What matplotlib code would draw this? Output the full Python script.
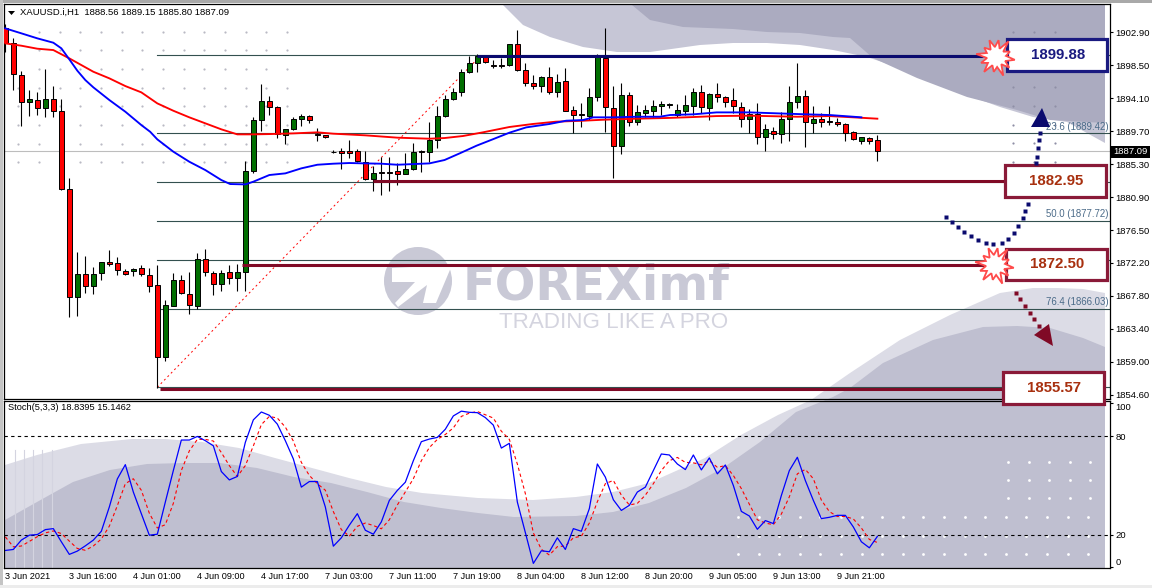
import numpy as np
import matplotlib
matplotlib.use('Agg')
import matplotlib.pyplot as plt
from matplotlib.patches import Rectangle, Circle, Polygon

W, H = 1152, 588

# candles, one hour bars
opens = [1903.42, 1901.42, 1897.24, 1893.56, 1893.82, 1892.76, 1894.04, 1892.36, 1882.04, 1867.56,
         1870.71, 1869.02, 1870.76, 1872.31, 1872.09, 1871.11, 1871.02, 1871.42, 1870.58, 1869.16,
         1859.56, 1866.45, 1869.82, 1868.04, 1866.45, 1872.62, 1870.85, 1869.29, 1870.89, 1870.09,
         1870.89, 1884.36, 1891.16, 1893.69, 1892.89, 1889.20, 1889.96, 1891.29, 1891.69, 1889.38,
         1889.16, 1886.98, 1887.02, 1887.02, 1887.02, 1885.64, 1883.38, 1884.27, 1884.31, 1884.36,
         1884.05, 1884.62, 1887.11, 1886.98, 1888.49, 1891.69, 1893.96, 1894.89, 1897.56, 1898.76,
         1899.73, 1898.53, 1898.58, 1898.49, 1901.29, 1897.82, 1896.09, 1895.73, 1896.89, 1894.89,
         1896.36, 1892.49, 1892.00, 1891.78, 1894.22, 1899.51, 1892.76, 1887.69, 1894.49, 1890.89,
         1892.18, 1892.45, 1893.02, 1893.16, 1891.87, 1892.45, 1893.02, 1894.89, 1892.84, 1894.62,
         1894.22, 1893.82, 1892.89, 1891.29, 1891.96, 1888.98, 1889.78, 1889.29, 1891.29, 1893.56,
         1894.36, 1890.84, 1891.29, 1891.11, 1890.98, 1890.62, 1889.64, 1888.45, 1888.76, 1888.56]
highs = [1904.00, 1902.09, 1897.73, 1895.20, 1894.89, 1898.00, 1895.73, 1894.00, 1883.42, 1873.60,
         1873.07, 1871.64, 1872.31, 1873.87, 1872.93, 1871.29, 1871.47, 1871.82, 1871.51, 1871.87,
         1867.20, 1870.76, 1870.53, 1870.93, 1873.47, 1874.00, 1871.11, 1871.20, 1871.87, 1872.00,
         1885.73, 1891.56, 1896.00, 1894.40, 1893.07, 1889.96, 1891.56, 1892.00, 1891.87, 1890.13,
         1889.20, 1887.20, 1887.42, 1888.53, 1887.29, 1887.02, 1885.07, 1886.22, 1886.22, 1885.42,
         1886.76, 1888.09, 1887.20, 1890.93, 1893.07, 1894.53, 1895.42, 1897.96, 1899.78, 1899.96,
         1899.87, 1899.20, 1899.42, 1901.33, 1903.20, 1898.76, 1897.20, 1897.07, 1898.27, 1897.33,
         1898.09, 1893.11, 1893.51, 1895.42, 1899.96, 1903.42, 1895.73, 1896.09, 1894.89, 1893.20,
         1893.20, 1893.87, 1893.69, 1893.51, 1893.33, 1894.53, 1895.42, 1895.87, 1894.76, 1896.09,
         1894.40, 1895.42, 1893.56, 1892.67, 1893.42, 1890.67, 1890.31, 1892.22, 1895.73, 1898.76,
         1895.20, 1893.07, 1892.09, 1893.07, 1891.42, 1890.85, 1889.73, 1888.98, 1888.98, 1889.15]
lows = [1900.31, 1895.20, 1890.40, 1891.78, 1891.91, 1891.60, 1891.56, 1881.91, 1865.00, 1865.11,
        1868.13, 1868.04, 1869.87, 1871.78, 1870.58, 1870.58, 1870.45, 1870.45, 1868.27, 1855.43,
        1859.11, 1866.45, 1868.04, 1865.34, 1866.00, 1870.45, 1867.87, 1868.40, 1869.29, 1868.40,
        1868.40, 1884.18, 1889.73, 1891.87, 1888.85, 1888.00, 1889.87, 1890.40, 1890.80, 1888.45,
        1888.80, 1886.85, 1884.71, 1886.09, 1885.60, 1883.16, 1881.73, 1881.20, 1881.73, 1882.53,
        1884.00, 1884.53, 1884.31, 1885.56, 1887.47, 1891.56, 1893.87, 1894.40, 1897.51, 1897.65,
        1898.76, 1898.13, 1898.13, 1898.44, 1897.78, 1895.73, 1895.38, 1894.93, 1894.71, 1894.27,
        1892.36, 1889.42, 1890.31, 1891.20, 1893.78, 1889.64, 1883.51, 1886.71, 1890.45, 1890.49,
        1891.64, 1891.64, 1891.87, 1892.80, 1891.56, 1891.87, 1891.87, 1892.09, 1891.20, 1893.60,
        1892.98, 1892.09, 1890.22, 1889.42, 1888.00, 1887.11, 1888.71, 1888.18, 1888.45, 1892.84,
        1887.64, 1889.42, 1890.31, 1890.53, 1890.40, 1888.45, 1888.53, 1888.00, 1887.96, 1885.80]
closes = [1901.42, 1897.33, 1893.60, 1893.96, 1892.76, 1893.96, 1892.36, 1881.96, 1867.56, 1870.71,
          1869.02, 1870.71, 1872.31, 1872.05, 1871.16, 1870.71, 1871.38, 1870.62, 1869.11, 1859.56,
          1866.49, 1869.82, 1868.09, 1866.49, 1872.62, 1870.89, 1869.29, 1870.76, 1870.09, 1870.89,
          1884.36, 1891.16, 1893.69, 1892.89, 1889.29, 1889.96, 1891.29, 1891.69, 1891.16, 1889.16,
          1888.98, 1886.89, 1886.85, 1886.85, 1885.69, 1883.29, 1884.09, 1884.09, 1884.13, 1884.05,
          1884.62, 1886.89, 1886.98, 1888.53, 1891.69, 1893.96, 1894.89, 1897.56, 1898.76, 1899.73,
          1898.89, 1898.40, 1898.40, 1901.29, 1897.82, 1896.09, 1895.73, 1896.89, 1894.89, 1896.22,
          1892.45, 1891.91, 1891.87, 1894.22, 1899.64, 1892.89, 1887.69, 1894.49, 1890.89, 1892.22,
          1892.49, 1893.02, 1893.29, 1893.29, 1892.49, 1893.16, 1894.89, 1892.89, 1894.62, 1894.31,
          1893.64, 1893.02, 1891.29, 1891.96, 1888.98, 1889.96, 1889.29, 1891.29, 1893.56, 1894.36,
          1890.89, 1891.29, 1890.98, 1890.93, 1890.62, 1889.51, 1888.62, 1888.89, 1888.45, 1887.09]

# moving averages, read at these bars
blue_bars = [0, 2, 4, 6, 7, 8, 9, 10, 11, 13, 15, 17, 18.1, 19, 21, 23, 25, 27, 28.1, 30, 31, 33, 35, 37, 39,
             41, 43, 45, 47, 49, 53, 54.9, 56.8, 58.9, 60.9, 63, 65.1, 68, 70.1, 72.2, 73.5, 76, 78.9, 81.8,
             83.1, 86, 88.9, 93, 99, 103, 106, 107]
blue_ma = [1903.42, 1902.76, 1902.09, 1901.51, 1900.76, 1899.29, 1897.78, 1896.53, 1895.56, 1893.87, 1892.31,
           1890.53, 1889.64, 1888.62, 1886.98, 1885.64, 1884.53, 1883.20, 1882.67, 1882.62, 1882.98, 1883.87,
           1884.09, 1884.76, 1885.24, 1885.38, 1885.47, 1885.42, 1885.38, 1885.24, 1885.42, 1885.87, 1886.76,
           1887.78, 1888.62, 1889.51, 1890.22, 1890.67, 1891.11, 1891.20, 1891.56, 1891.56, 1891.64, 1891.64,
           1891.87, 1891.96, 1892.22, 1892.22, 1892.00, 1891.87, 1891.64, 1891.56]
red_bars = [0, 2, 4, 6, 8, 11, 13, 15, 17, 19, 21, 23, 25, 27, 29, 31, 33, 36, 39, 41, 45, 49, 53, 54.9, 57.2,
            59.7, 63, 65.9, 68.8, 72.2, 74.7, 78.9, 82.6, 86, 88.9, 93, 99, 103, 106, 109]
red_ma = [1901.42, 1901.11, 1900.71, 1900.53, 1899.42, 1897.64, 1896.76, 1895.73, 1894.89, 1893.42, 1892.44,
          1891.56, 1890.76, 1889.96, 1889.29, 1889.29, 1889.33, 1889.42, 1889.56, 1889.38, 1889.16, 1888.85,
          1888.71, 1888.80, 1889.07, 1889.56, 1890.27, 1890.67, 1890.98, 1891.11, 1891.24, 1891.38, 1891.47,
          1891.60, 1891.73, 1891.78, 1891.64, 1891.73, 1891.56, 1891.38]

# stochastic
stoch_main = [10.3, 10.9, 16.6, 19.6, 20.0, 23.0, 23.6, 15.6, 7.9, 9.9, 13.1, 16.6, 22.0, 36.8, 53.9, 62.6, 45.9,
              32.7, 19.6, 20.2, 39.8, 59.0, 77.6, 77.6, 79.8, 77.2, 74.1, 58.4, 53.3, 55.4, 76.2, 89.9, 94.7,
              92.7, 87.3, 77.2, 66.1, 48.9, 52.3, 52.3, 36.8, 12.9, 18.0, 25.7, 32.7, 22.6, 20.2, 27.7, 40.8,
              46.9, 51.9, 65.0, 76.6, 78.2, 79.2, 84.2, 92.3, 95.2, 94.5, 94.3, 91.3, 86.7, 72.7, 75.6, 39.8,
              21.2, 2.4, 10.1, 9.5, 18.0, 10.9, 23.6, 22.0, 35.8, 63.0, 55.0, 41.2, 34.7, 37.8, 45.9, 48.9,
              59.0, 69.1, 68.5, 63.0, 59.6, 68.5, 59.4, 66.7, 57.0, 62.4, 49.9, 34.1, 31.3, 23.2, 28.5, 26.7,
              43.8, 59.0, 67.1, 52.9, 40.8, 29.7, 30.5, 31.7, 31.7, 24.6, 15.6, 11.9, 18.84]
stoch_signal = [18.6, 12.5, 13.0, 15.8, 18.7, 21.0, 22.2, 20.6, 16.0, 11.5, 10.4, 13.0, 17.3, 25.1, 37.6, 51.0,
                54.0, 47.0, 33.0, 24.0, 26.0, 39.0, 59.0, 71.0, 78.0, 78.0, 77.0, 70.0, 62.0, 55.4, 62.0, 74.0,
                87.0, 92.0, 91.0, 85.5, 77.0, 64.0, 56.0, 51.0, 47.0, 34.0, 23.0, 19.0, 25.0, 27.0, 25.5, 23.5,
                29.0, 38.0, 46.0, 54.0, 65.0, 73.0, 78.0, 81.0, 85.0, 92.0, 94.0, 95.0, 93.0, 91.0, 83.0, 78.0,
                63.0, 45.0, 21.0, 11.0, 7.5, 12.6, 13.0, 18.0, 19.0, 27.0, 40.0, 51.0, 53.0, 44.0, 38.0, 39.0,
                44.0, 51.0, 59.0, 65.0, 67.0, 64.0, 63.7, 62.5, 65.0, 61.0, 62.0, 56.0, 48.0, 38.5, 29.0, 27.0,
                26.0, 32.5, 43.0, 57.0, 59.7, 54.0, 41.0, 34.0, 31.0, 31.0, 29.5, 24.0, 17.0, 15.15]

price_ticks = [1902.90, 1898.50, 1894.10, 1889.70, 1885.30, 1880.90, 1876.50, 1872.20, 1867.80, 1863.40, 1859.00, 1854.60]
date_labels = ['3 Jun 2021', '3 Jun 16:00', '4 Jun 01:00', '4 Jun 09:00', '4 Jun 17:00', '7 Jun 03:00', '7 Jun 11:00',
               '7 Jun 19:00', '8 Jun 04:00', '8 Jun 12:00', '8 Jun 20:00', '9 Jun 05:00', '9 Jun 13:00', '9 Jun 21:00']
stoch_ticks = [100, 80, 20, 0]

# fibonacci levels, the 38.2, 61.8 and 100 labels sit behind the boxes so only these three show
fib_levels = [1899.88, 1889.42, 1882.95, 1877.72, 1872.50, 1866.03, 1855.57]
fib_shown = [('23.6', 1889.42), ('50.0', 1877.72), ('76.4', 1866.03)]

# thick levels drawn by hand on the chart, with the bar they start at and end at
zone_levels = [1899.70, 1883.03, 1871.85, 1855.40]
zone_start = [59, 46, 29.6, 19.3]
zone_end = [122.2, 124.8, 122.5, 124.6]
zone_colors = ['#0a0a6e', '#800a26', '#800a26', '#800a26']

box_labels = ['1899.88', '1882.95', '1872.50', '1855.57']
box_edges = ['#1a1a80', '#8a1a38', '#8a1a38', '#8a1a38']
box_text = ['#1a1a80', '#a8300f', '#a8300f', '#a8300f']
box_rects = [(1007, 39, 100, 32), (1005, 165, 101, 32), (1006, 249, 101, 31), (1003, 372, 101, 32)]

FONT = 'Liberation Sans'
bars = np.arange(len(closes))


def px_axes(left, top, right, bottom, z):
    a = fig.add_axes([left / W, 1 - bottom / H, (right - left) / W, (bottom - top) / H], zorder=z)
    a.patch.set_alpha(0)
    return a


fig = plt.figure(figsize=(W / 100, H / 100), dpi=100, facecolor='white')

# background layer in pixels: watermark shapes
bg = px_axes(0, 0, W, H, 0)
bg.set_xlim(0, W)
bg.set_ylim(H, 0)
bg.axis('off')

bg.add_patch(Rectangle((0, 0), W, 3, color='#a9a9a9', lw=0))
bg.add_patch(Rectangle((0, 0), 3, H, color='#c4c4c4', lw=0))
bg.add_patch(Rectangle((0, 585), W, 3, color='#ececec', lw=0))

top_light = [(503, 5), (523, 25), (550, 37), (583, 47), (617, 52), (650, 52), (700, 45), (733, 43), (767, 43), (800, 45),
             (833, 50), (867, 57), (900, 68), (933, 83), (967, 95), (1000, 107), (1033, 117), (1067, 122), (1105, 143),
             (1105, 5)]
top_dark = [(632, 5), (650, 20), (683, 27), (733, 29), (767, 32), (800, 33), (833, 37), (850, 38), (873, 58), (917, 78),
            (967, 97), (1017, 110), (1050, 120), (1105, 123), (1105, 5)]
low_light = [(5, 465), (37, 455), (81, 444), (132, 439), (165, 439), (202, 442), (239, 448), (275, 458), (312, 468),
             (349, 478), (386, 487), (422, 493), (478, 498), (533, 500), (576, 497), (613, 492), (649, 483), (705, 458),
             (741, 435), (778, 415), (811, 400), (850, 373), (900, 340), (950, 315), (1000, 293), (1033, 288), (1057, 288),
             (1083, 289), (1105, 293), (1105, 568), (5, 568)]
low_dark = [(5, 520), (37, 502), (73, 482), (110, 470), (147, 464), (184, 463), (220, 463), (257, 468), (294, 477),
            (331, 483), (367, 492), (404, 502), (441, 508), (478, 513), (514, 517), (576, 516), (613, 512), (649, 503),
            (686, 488), (723, 468), (760, 442), (796, 412), (833, 397), (850, 388), (883, 363), (933, 340), (983, 327),
            (1017, 326), (1050, 328), (1083, 338), (1105, 347), (1105, 568), (5, 568)]
bg.add_patch(Polygon(top_light, closed=True, fc='#c6c6d6', ec='none'))
bg.add_patch(Polygon(top_dark, closed=True, fc='#ababc0', ec='none'))
bg.add_patch(Polygon(low_light, closed=True, fc='#dcdce6', ec='none'))
bg.add_patch(Polygon(low_dark, closed=True, fc='#bfbfd0', ec='none'))

for x in [15, 24, 33, 42, 52]:
    bg.plot([x, x], [450, 567], color='#d4d4e0', lw=0.8)

# logo
bg.add_patch(Circle((418, 281), 34, fc='#c9c9d6', ec='none'))
bg.add_patch(Polygon([(392, 268), (452, 265), (436, 303), (423, 303), (427, 285), (398, 307), (395, 303), (415, 282), (392, 282)],
                     closed=True, fc='white', ec='none'))
bg.text(463, 286, 'FOREXimf', family='DejaVu Sans', weight='bold', fontsize=34.5, color='#c9c9d6', va='center', ha='left')
bg.text(499, 322, 'TRADING LIKE A PRO', family=FONT, fontsize=16.1, color='#d4d4df', va='center', ha='left')

# dots
for row, y in enumerate([31.7, 50.3, 69, 87.7, 106.3, 125, 143.7, 162.3]):
    x0 = 39 if row < 3 else 18.3
    xs = np.arange(x0, 290, 20.67)
    bg.plot(xs, [y] * len(xs), ls='none', marker='o', ms=1.6, mfc='#b9b9c4', mec='none')
for y in [32, 87, 106, 125, 143, 162]:
    bg.plot([1013, 1034, 1055], [y] * 3, ls='none', marker='o', ms=1.6, mfc='#8f8fa6', mec='none')
for y in [517, 536, 554]:
    xs = np.arange(738, 1095, 20.6)
    bg.plot(xs, [y] * len(xs), ls='none', marker='o', ms=2, mfc='white', mec='none')
for y in [462, 480, 498]:
    xs = np.arange(1008, 1095, 20.6)
    bg.plot(xs, [y] * len(xs), ls='none', marker='o', ms=2, mfc='white', mec='none')

# main chart
ax = px_axes(4, 4, 1110, 399, 2)
ax.set_xlim(-0.166, 138.08)
ax.set_ylim(1854.01, 1906.67)

for lvl in fib_levels:
    ax.plot([19, 138.08], [lvl, lvl], color='#33504f', lw=0.8, zorder=1)
ax.plot([19, 59.5], [fib_levels[-1], fib_levels[0]], color='red', lw=0.7, ls=(0, (2, 3)), zorder=1)
for name, lvl in fib_shown:
    ax.text(137.9, lvl + 0.25, '%s (%.2f)' % (name, lvl), family=FONT, fontsize=6.9, color='#4a6a88', ha='right', va='bottom',
            zorder=1)
ax.axhline(closes[-1], color='#bdbdbd', lw=0.8, zorder=1)

o = np.array(opens)
c = np.array(closes)
up = c >= o
ax.vlines(bars, lows, highs, color='black', lw=0.8, zorder=3)
ax.bar(bars[up], (c - o)[up], bottom=o[up], width=0.56, color='#006e00', edgecolor='black', lw=0.7, zorder=4)
ax.bar(bars[~up], (o - c)[~up], bottom=c[~up], width=0.56, color='#ff0000', edgecolor='black', lw=0.7, zorder=4)

ax.plot(red_bars, red_ma, color='#ff0000', lw=1.35, zorder=5)
ax.plot(blue_bars, blue_ma, color='#0000ff', lw=1.35, zorder=6)

for lvl, s, e, col in zip(zone_levels, zone_start, zone_end, zone_colors):
    ax.plot([s, e], [lvl, lvl], color=col, lw=2.2, solid_capstyle='butt', zorder=7)

ax.yaxis.tick_right()
ax.set_yticks(price_ticks)
ax.set_yticklabels(['%.2f' % p for p in price_ticks], family=FONT, fontsize=6.8)
ax.tick_params(axis='y', length=2.5, width=0.8, pad=1.5)
ax.set_xticks([])
for s in ax.spines.values():
    s.set_linewidth(0.9)

# stochastic panel
ax2 = px_axes(4, 401, 1110, 568, 2)
ax2.set_xlim(-0.166, 138.08)
ax2.set_ylim(-0.4, 101.4)
ax2.axhline(80, color='black', lw=0.8, ls=(0, (3, 3)))
ax2.axhline(20, color='black', lw=0.8, ls=(0, (3, 3)))
ax2.plot(bars, stoch_signal, color='red', lw=0.8, ls=(0, (3, 2.5)))
ax2.plot(bars, stoch_main, color='#0000ff', lw=0.9)
ax2.text(0.3, 97.3, 'Stoch(5,3,3) 18.8395 15.1462', family=FONT, fontsize=6.7, va='center', ha='left')
ax2.yaxis.tick_right()
ax2.set_yticks(stoch_ticks)
ax2.set_yticklabels([str(t) for t in stoch_ticks], family=FONT, fontsize=6.8)
ax2.tick_params(axis='y', length=2.5, width=0.8, pad=1.5)
ax2.get_yticklabels()[0].set_verticalalignment('top')
ax2.get_yticklabels()[3].set_verticalalignment('bottom')
ax2.set_xticks(np.arange(len(date_labels)) * 8)
ax2.set_xticklabels(date_labels, family=FONT, fontsize=6.6, ha='left')
ax2.tick_params(axis='x', length=0, pad=3)
for s in ax2.spines.values():
    s.set_linewidth(0.9)

# overlay in pixels: title, boxes, stars, arrows
fg = px_axes(0, 0, W, H, 5)
fg.set_xlim(0, W)
fg.set_ylim(H, 0)
fg.axis('off')

fg.add_patch(Polygon([(8, 11), (15, 11), (11.5, 15)], closed=True, fc='black', ec='none'))
fg.text(19.5, 12.5, 'XAUUSD.i,H1  1888.56 1889.15 1885.80 1887.09', family=FONT, fontsize=6.8, va='center', ha='left')

fg.add_patch(Rectangle((1111, 146), 39, 11.5, fc='black', ec='none'))
fg.text(1130.5, 151.8, '%.2f' % closes[-1], family=FONT, fontsize=6.8, color='white', ha='center', va='center')

# blue dotted path, hidden under the 1882.95 box
blue_path = [(946, 217), (952, 222), (958, 227), (964, 232), (971, 236), (978, 240), (986, 243), (993, 244), (1002, 243),
             (1008, 239), (1014, 233), (1018, 226), (1023, 218), (1025, 211), (1028, 204), (1036, 163), (1037, 157),
             (1038, 148), (1039, 140), (1040, 133)]
red_path = [(1016, 293), (1020, 299), (1025, 306), (1030, 313), (1034, 319), (1039, 326)]
fg.plot(*zip(*blue_path), ls='none', marker='s', ms=3, mfc='#0a0a6e', mec='none')
fg.plot(*zip(*red_path), ls='none', marker='s', ms=3, mfc='#800a26', mec='none')
fg.add_patch(Polygon([(1042, 108), (1031, 127), (1050, 127)], closed=True, fc='#0a0a6e', ec='none'))
fg.add_patch(Polygon([(1049, 324), (1034, 335), (1053, 346)], closed=True, fc='#800a26', ec='none'))

for (x, y, w, h), lab, ec, tc in zip(box_rects, box_labels, box_edges, box_text):
    fg.add_patch(Rectangle((x, y), w, h, fc='white', ec=ec, lw=2.3))
    fg.text(x + w / 2 + 1, y + h / 2, lab, family=FONT, weight='bold', fontsize=10.8, color=tc, ha='center', va='center')

# starbursts
angles = np.linspace(0, 2 * np.pi, 25)[:-1] + 0.15
radii = np.array([19, 10, 17, 9, 20, 10, 15, 9, 19, 10, 16, 9, 20, 10, 15, 9, 18, 10, 17, 9, 20, 9, 15, 10])
for cx, cy in [(996, 57), (995, 265)]:
    pts = np.column_stack([cx + radii * np.cos(angles), cy + radii * np.sin(angles)])
    fg.add_patch(Polygon(pts, closed=True, fc='white', ec='#ff4a4a', lw=1.3))

fig.savefig('out.png', dpi=100)
